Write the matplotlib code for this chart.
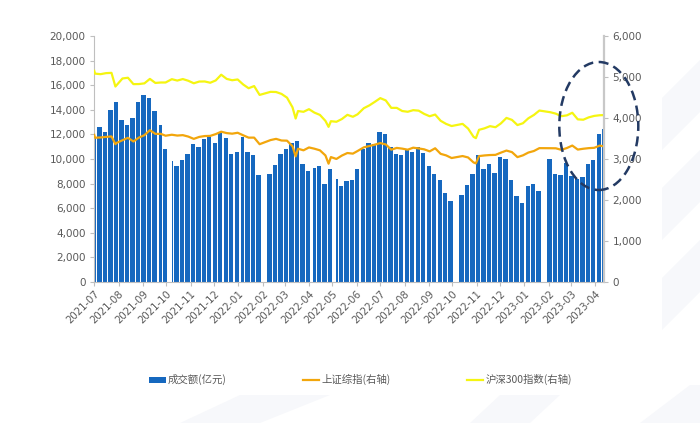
import matplotlib
matplotlib.use('Agg')
import matplotlib.pyplot as plt
import matplotlib.dates as mdates
from matplotlib.patches import Ellipse, Polygon
from matplotlib.lines import Line2D
from matplotlib.patches import Patch
import pandas as pd

# 成交额: 按周读取 (起始交易日, 交易天数, 日均成交额 亿元)
week_start = ['2021-07-01', '2021-07-05', '2021-07-12', '2021-07-19', '2021-07-26',
              '2021-08-02', '2021-08-09', '2021-08-16', '2021-08-23', '2021-08-30',
              '2021-09-06', '2021-09-13', '2021-09-22', '2021-09-27', '2021-10-08',
              '2021-10-11', '2021-10-18', '2021-10-25', '2021-11-01', '2021-11-08',
              '2021-11-15', '2021-11-22', '2021-11-29', '2021-12-06', '2021-12-13',
              '2021-12-20', '2021-12-27', '2022-01-04', '2022-01-10', '2022-01-17',
              '2022-01-24', '2022-02-07', '2022-02-14', '2022-02-21', '2022-02-28',
              '2022-03-07', '2022-03-14', '2022-03-21', '2022-03-28', '2022-04-06',
              '2022-04-11', '2022-04-18', '2022-04-25', '2022-05-05', '2022-05-09',
              '2022-05-16', '2022-05-23', '2022-05-30', '2022-06-06', '2022-06-13',
              '2022-06-20', '2022-06-27', '2022-07-04', '2022-07-11', '2022-07-18',
              '2022-07-25', '2022-08-01', '2022-08-08', '2022-08-15', '2022-08-22',
              '2022-08-29', '2022-09-05', '2022-09-13', '2022-09-19', '2022-09-26',
              '2022-10-10', '2022-10-17', '2022-10-24', '2022-10-31', '2022-11-07',
              '2022-11-14', '2022-11-21', '2022-11-28', '2022-12-05', '2022-12-12',
              '2022-12-19', '2022-12-26', '2023-01-03', '2023-01-09', '2023-01-16',
              '2023-01-30', '2023-02-06', '2023-02-13', '2023-02-20', '2023-02-27',
              '2023-03-06', '2023-03-13', '2023-03-20', '2023-03-27', '2023-04-03',
              '2023-04-10']
week_days = [2, 5, 5, 5, 5, 5, 5, 5, 5, 5,
             5, 5, 3, 4, 1, 5, 5, 5, 5, 5,
             5, 5, 5, 5, 5, 5, 5, 4, 5, 5,
             5, 5, 5, 5, 5, 5, 5, 5, 5, 3,
             5, 5, 5, 2, 5, 5, 5, 4, 5, 5,
             5, 5, 5, 5, 5, 5, 5, 5, 5, 5,
             5, 5, 4, 5, 5, 5, 5, 5, 5, 5,
             5, 5, 5, 5, 5, 5, 5, 4, 5, 5,
             5, 5, 5, 5, 5, 5, 5, 5, 5, 5,
             2]
turnover = [11800, 12600, 12200, 14000, 14600, 13200, 12800, 13300, 14600, 15200,
            15000, 13900, 12800, 10800, 9800, 9400, 9900, 10400, 11200, 11000,
            11600, 11800, 11300, 12100, 11700, 10400, 10600, 11800, 10600, 10300,
            8700, 8800, 9500, 10400, 10800, 11300, 11500, 9600, 9000, 9300,
            9400, 8000, 9200, 8400, 7800, 8200, 8300, 9200, 10800, 11300,
            11200, 12200, 12000, 11000, 10400, 10300, 10700, 10600, 11000, 10500,
            9400, 8800, 8300, 7200, 6600, 7100, 7900, 8800, 10300, 9200,
            9600, 8900, 10200, 10000, 8300, 7000, 6400, 7800, 8000, 7400,
            10000, 8800, 8700, 9700, 8600, 8400, 8500, 9600, 9900, 12000,
            12400]

# 指数 (右轴)
idx_dates = ['2021-07-01', '2021-07-02', '2021-07-09', '2021-07-16', '2021-07-23',
             '2021-07-28', '2021-07-30', '2021-08-06', '2021-08-13', '2021-08-20',
             '2021-08-27', '2021-09-03', '2021-09-10', '2021-09-17', '2021-09-24',
             '2021-09-30', '2021-10-08', '2021-10-15', '2021-10-22', '2021-10-29',
             '2021-11-05', '2021-11-12', '2021-11-19', '2021-11-26', '2021-12-03',
             '2021-12-10', '2021-12-17', '2021-12-24', '2021-12-31', '2022-01-07',
             '2022-01-14', '2022-01-21', '2022-01-28', '2022-02-11', '2022-02-18',
             '2022-02-25', '2022-03-04', '2022-03-11', '2022-03-15', '2022-03-18',
             '2022-03-25', '2022-04-01', '2022-04-08', '2022-04-15', '2022-04-22',
             '2022-04-26', '2022-04-29', '2022-05-06', '2022-05-13', '2022-05-20',
             '2022-05-27', '2022-06-02', '2022-06-10', '2022-06-17', '2022-06-24',
             '2022-07-01', '2022-07-08', '2022-07-15', '2022-07-22', '2022-07-29',
             '2022-08-05', '2022-08-12', '2022-08-19', '2022-08-26', '2022-09-02',
             '2022-09-09', '2022-09-16', '2022-09-23', '2022-09-30', '2022-10-14',
             '2022-10-21', '2022-10-28', '2022-10-31', '2022-11-04', '2022-11-11',
             '2022-11-18', '2022-11-25', '2022-12-02', '2022-12-09', '2022-12-16',
             '2022-12-23', '2022-12-30', '2023-01-06', '2023-01-13', '2023-01-20',
             '2023-02-03', '2023-02-10', '2023-02-17', '2023-02-24', '2023-03-03',
             '2023-03-10', '2023-03-17', '2023-03-24', '2023-03-31', '2023-04-07',
             '2023-04-11']
sse = [3588, 3519, 3525, 3539, 3550, 3362, 3397, 3458, 3517, 3427,
       3522, 3581, 3703, 3613, 3613, 3568, 3592, 3572, 3582, 3547,
       3491, 3539, 3560, 3564, 3607, 3666, 3632, 3618, 3640, 3579,
       3521, 3522, 3361, 3462, 3491, 3451, 3447, 3309, 3064, 3251,
       3212, 3282, 3251, 3211, 3087, 2886, 3047, 3001, 3084, 3146,
       3131, 3195, 3285, 3316, 3350, 3388, 3356, 3228, 3270, 3253,
       3227, 3276, 3258, 3236, 3186, 3262, 3126, 3088, 3024, 3072,
       3038, 2916, 2893, 3071, 3087, 3097, 3101, 3156, 3206, 3168,
       3046, 3089, 3158, 3195, 3265, 3263, 3261, 3224, 3267, 3328,
       3230, 3250, 3265, 3273, 3327, 3313]
hs300 = [5150, 5082, 5069, 5094, 5101, 4768, 4811, 4964, 4982, 4826,
         4828, 4845, 4954, 4855, 4866, 4866, 4947, 4913, 4950, 4908,
         4847, 4889, 4891, 4860, 4916, 5056, 4954, 4921, 4940, 4818,
         4726, 4779, 4563, 4638, 4634, 4587, 4496, 4260, 3987, 4170,
         4151, 4215, 4131, 4075, 3930, 3784, 3922, 3908, 3975, 4077,
         4030, 4090, 4239, 4307, 4394, 4485, 4428, 4247, 4247, 4170,
         4152, 4191, 4179, 4100, 4043, 4084, 3932, 3856, 3804, 3857,
         3743, 3541, 3508, 3712, 3748, 3801, 3775, 3870, 4002, 3954,
         3828, 3872, 3994, 4074, 4182, 4141, 4106, 4044, 4064, 4128,
         3967, 3958, 4016, 4051, 4067, 4070]

bar_color = '#1668bf'
sse_color = '#f2a60c'
hs_color = '#f5f511'
txt = '#595959'

fig = plt.figure(figsize=(7, 4.23), dpi=100)
fig.patch.set_facecolor('white')

# 背景水印 (很淡)
wm = '#f7f8fb'
for pts in [[(662, 150), (700, 112), (700, 60), (662, 98)],
            [(662, 240), (700, 202), (700, 150), (662, 188)],
            [(662, 330), (700, 292), (700, 240), (662, 278)],
            [(180, 423), (240, 395), (330, 395), (260, 423)],
            [(470, 423), (500, 395), (560, 395), (530, 423)],
            [(640, 423), (690, 385), (700, 385), (700, 423)]]:
    fig.patches.append(Polygon([(x / 700, 1 - y / 423) for x, y in pts],
                               closed=True, transform=fig.transFigure,
                               facecolor=wm, edgecolor='none', zorder=0))

ax = fig.add_axes([0.1343, 0.3333, 0.7286, 0.5816])
ax.set_facecolor('none')
xs = mdates.date2num(pd.to_datetime(week_start))
ax.bar(xs, turnover, width=[n + 0.6 for n in week_days], align='edge',
       color=bar_color, linewidth=0)
ax.set_ylim(0, 20000)
ax.set_yticks(range(0, 20001, 2000))
ax.yaxis.set_major_formatter(matplotlib.ticker.FuncFormatter(lambda v, p: '{:,.0f}'.format(v)))
ax.set_xlim(mdates.date2num(pd.Timestamp('2021-07-01')) - 0.3,
            mdates.date2num(pd.Timestamp('2023-04-12')) + 0.5)
ax.xaxis.set_major_locator(mdates.MonthLocator())
ax.xaxis.set_major_formatter(mdates.DateFormatter('%Y-%m'))
for lab in ax.get_xticklabels():
    lab.set_rotation(45)
    lab.set_ha('right')
    lab.set_rotation_mode('anchor')
ax.tick_params(axis='x', labelsize=7.3, colors=txt, length=3, width=0.8, color='#bfbfbf', pad=2)
ax.tick_params(axis='y', labelsize=7.5, colors=txt, length=3, width=0.8, color='#bfbfbf', pad=3)
for s in ['top', 'right']:
    ax.spines[s].set_visible(False)
ax.spines['left'].set_color('#bfbfbf')
ax.spines['bottom'].set_color('#bfbfbf')

ax2 = ax.twinx()
d = pd.to_datetime(idx_dates)
ax2.plot(d, sse, color=sse_color, lw=1.6)
ax2.plot(d, hs300, color=hs_color, lw=1.6)
ax2.set_ylim(0, 6000)
ax2.set_yticks(range(0, 6001, 1000))
ax2.yaxis.set_major_formatter(matplotlib.ticker.FuncFormatter(lambda v, p: '{:,.0f}'.format(v)))
ax2.tick_params(axis='y', labelsize=7.5, colors=txt, length=3, width=0.8, color='#bfbfbf', pad=3)
for s in ['top', 'left', 'bottom']:
    ax2.spines[s].set_visible(False)
ax2.spines['right'].set_color('#c8c8c8')
ax2.spines['right'].set_linewidth(1.6)

# 圈注
fig.patches.append(Ellipse((598.8 / 700, 1 - 126 / 423), 79 / 700, 128 / 423,
                           transform=fig.transFigure, fill=False,
                           edgecolor='#233a63', lw=1.8, linestyle=(0, (4, 2.2)),
                           zorder=10))

handles = [Patch(facecolor=bar_color, edgecolor='none'),
           Line2D([], [], color=sse_color, lw=1.6),
           Line2D([], [], color=hs_color, lw=1.6)]
labels = ['成交额(亿元)', '上证综指(右轴)', '沪深300指数(右轴)']
leg = fig.legend(handles, labels, loc='center', bbox_to_anchor=(0.515, 0.102), ncol=3,
                 frameon=False, handlelength=1.6, handleheight=0.5, handletextpad=0.2,
                 columnspacing=7.3, prop={'family': ['Noto Sans CJK SC', 'DejaVu Sans'], 'size': 7.5})
for t in leg.get_texts():
    t.set_color(txt)

fig.savefig('out.png', dpi=100)
